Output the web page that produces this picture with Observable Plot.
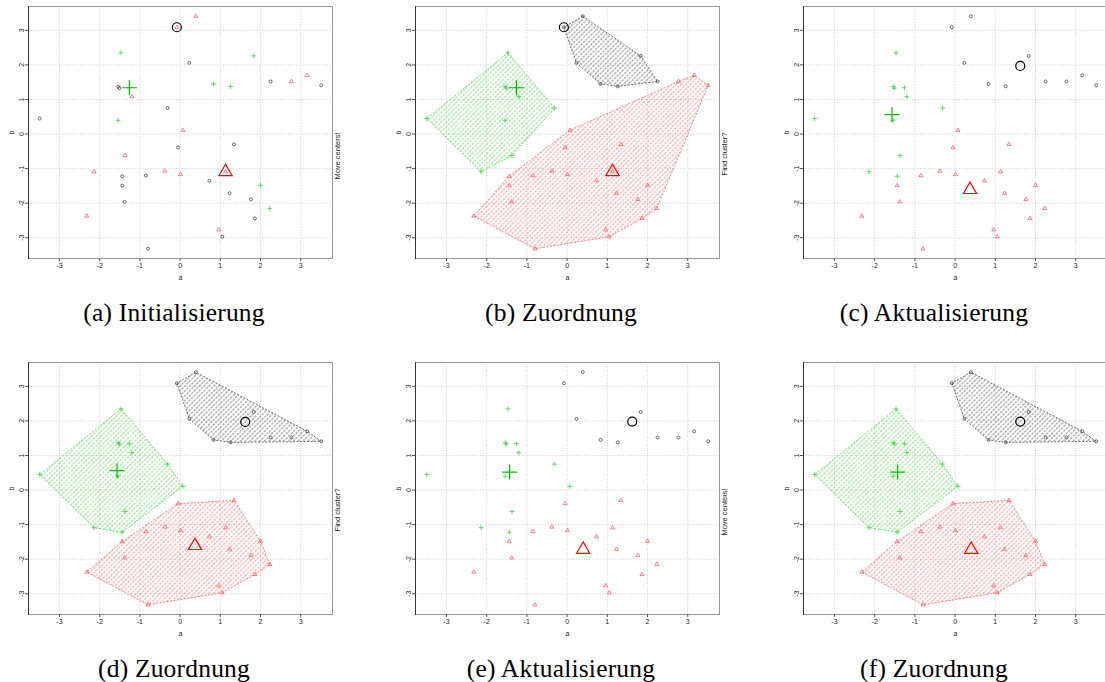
<!DOCTYPE html>
<html><head><meta charset="utf-8">
<script src="https://cdn.jsdelivr.net/npm/d3@7"></script>
<script src="https://cdn.jsdelivr.net/npm/@observablehq/plot@0.6"></script>
<style>
html,body{margin:0;padding:0;background:#fff;}
#wrap{position:relative;width:1105px;height:682px;overflow:hidden;background:#fff;}
.panel{position:absolute;width:370px;height:280px;}
.panel svg{max-width:none !important;width:370px;height:280px;}
.cap{position:absolute;font-family:"Liberation Serif","Times New Roman",serif;font-size:25.5px;line-height:26px;white-space:nowrap;transform:translateX(-50%);color:#000;letter-spacing:0.2px;}
</style></head><body><div id="wrap"></div>
<script>
// ---- data: 40 points (a, b) ----
const a = [-0.08, 0.39, 0.23, 1.83, 0.83, 1.26, 2.25, 2.77, 3.16, 3.51,
           -1.47, -1.54, -1.51, -1.26, -1.20, -0.31, -3.49, -1.54, -1.37, -2.14, -1.44,
           0.07, -0.05, 1.34, -0.85, -0.38, 0.01, 1.13, 0.73, 2.00, -1.44, 1.23, -1.38, 1.76, 2.23, -2.32, 1.86, 0.96, 1.05, -0.80];
const b = [3.09, 3.41, 2.06, 2.26, 1.45, 1.38, 1.52, 1.52, 1.70, 1.41,
           2.35, 1.37, 1.33, 1.34, 1.08, 0.75, 0.45, 0.40, -0.62, -1.09, -1.22,
           0.11, -0.39, -0.30, -1.20, -1.07, -1.17, -1.09, -1.35, -1.48, -1.49, -1.71, -1.96, -1.89, -2.15, -2.37, -2.44, -2.77, -2.97, -3.32];
// cluster labels: 1 = black circle, 2 = red triangle, 3 = green plus
const clusterInit   = [2,2,1,3,3,3,1,2,2,1, 3,1,1,3,2,1,1,3,2,2,1, 2,1,1,1,2,2,2,1,3,1,1,1,1,3,2,1,2,1,1];
const clusterFirst  = [1,1,1,1,1,1,1,2,2,2, 3,3,3,3,3,3,3,3,3,3,2, 2,2,2,2,2,2,2,2,2,2,2,2,2,2,2,2,2,2,2];
const clusterSecond = [1,1,1,1,1,1,1,1,1,1, 3,3,3,3,3,3,3,3,3,3,3, 2,2,2,2,2,2,2,2,2,2,2,2,2,2,2,2,2,2,2];
const clusterThird  = [1,1,1,1,1,1,1,1,1,1, 3,3,3,3,3,3,3,3,3,3,3, 3,2,2,2,2,2,2,2,2,2,2,2,2,2,2,2,2,2,2];
// centers (cluster order 1, 2, 3)
const centerK  = [1, 2, 3];
const center0A = [-0.08, 1.13, -1.26];
const center0B = [3.09, -1.09, 1.34];
const center1A = [1.62, 0.37, -1.57];
const center1B = [1.97, -1.61, 0.56];
const center2A = [1.62, 0.40, -1.43];
const center2B = [1.98, -1.72, 0.52];
// ticks
const xTicks = [-3, -2, -1, 0, 1, 2, 3];
const yTicks = [-3, -2, -1, 0, 1, 2, 3];
const tickLabels = ["-3", "-2", "-1", "0", "1", "2", "3"];
// texts (panels c and f: side label falls outside the visible figure)
const sideLabels = ["Move centers!", "Find cluster?", "", "Find cluster?", "Move centers!", ""];
const captions = ["(a) Initialisierung", "(b) Zuordnung", "(c) Aktualisierung", "(d) Zuordnung", "(e) Aktualisierung", "(f) Zuordnung"];

// ---- styles ----
const colPt = {1: "#333333", 2: "#ff4d4d", 3: "#2ecc2e"};
const colCtr = {1: "#000000", 2: "#ff0000", 3: "#00bb00"};
const colHatch = {1: "#4a4a4a", 2: "#ff5e5e", 3: "#44d444"};
const sym = {1: "circle", 2: "triangle2", 3: "plus"};
const rPt = {1: 1.5, 2: 1.9, 3: 1.75};
const rCtr = {1: 4.5, 2: 6.3, 3: 4.9};
const fmt = d => tickLabels[xTicks.indexOf(d)];

const panels = [
  {id: "a", pts: clusterInit,   hull: null,         ca: center0A, cb: center0B, left: 0,   top: 0,   cx: 174, cy: 300},
  {id: "b", pts: clusterFirst,  hull: clusterFirst, ca: center0A, cb: center0B, left: 387, top: 0,   cx: 561, cy: 300},
  {id: "c", pts: clusterSecond, hull: null,         ca: center1A, cb: center1B, left: 775, top: 0,   cx: 934, cy: 300},
  {id: "d", pts: clusterThird,  hull: clusterThird, ca: center1A, cb: center1B, left: 0,   top: 356, cx: 174, cy: 656},
  {id: "e", pts: clusterThird,  hull: null,         ca: center2A, cb: center2B, left: 387, top: 356, cx: 561, cy: 656},
  {id: "f", pts: clusterThird,  hull: clusterThird, ca: center2A, cb: center2B, left: 775, top: 356, cx: 934, cy: 656}
];

const wrap = document.getElementById("wrap");

panels.forEach((p, pi) => {
  const pts = a.map((v, i) => ({a: v, b: b[i], pk: p.pts[i], hk: p.hull ? p.hull[i] : 0}));
  const marks = [
    Plot.gridX(xTicks, {stroke: "#c4c4c4", strokeOpacity: 1, strokeWidth: 0.8, strokeDasharray: "1,1.6"}),
    Plot.gridY(yTicks, {stroke: "#c4c4c4", strokeOpacity: 1, strokeWidth: 0.8, strokeDasharray: "1,1.6"})
  ];
  if (p.hull) {
    for (const k of centerK) {
      marks.push(Plot.hull(pts.filter(d => d.hk === k), {x: "a", y: "b", fill: `url(#hatch${k}${p.id})`, stroke: colHatch[k], strokeWidth: 0.8, strokeDasharray: "2,1.5"}));
    }
  }
  for (const k of centerK) {
    marks.push(Plot.dot(pts.filter(d => d.pk === k), {x: "a", y: "b", symbol: sym[k], r: rPt[k], stroke: colPt[k], fill: "none", strokeWidth: 0.7}));
  }
  centerK.forEach((k, i) => {
    marks.push(Plot.dot([{a: p.ca[i], b: p.cb[i]}], {x: "a", y: "b", symbol: sym[k], r: rCtr[k], stroke: colCtr[k], fill: "none", strokeWidth: 1.2}));
  });
  marks.push(Plot.frame({stroke: "#999"}));
  marks.push(Plot.frame({anchor: "left", stroke: "#333"}));
  marks.push(Plot.axisX(xTicks, {tickSize: 3, tickPadding: 1.5, fontSize: 7, stroke: "#555", fill: "#222", tickFormat: fmt, label: "a", labelAnchor: "center", labelOffset: 21, labelArrow: "none"}));
  marks.push(Plot.axisY(yTicks, {tickSize: 3, tickPadding: 1.5, tickRotate: -90, fontSize: 7, stroke: "#555", fill: "#222", tickFormat: fmt, label: "b", labelAnchor: "center", labelOffset: 19, labelArrow: "none"}));
  if (sideLabels[pi]) {
    marks.push(Plot.text([sideLabels[pi]], {text: d => d, frameAnchor: "right", rotate: -90, dx: 5, fontSize: 7.5, fill: "#222"}));
  }

  const svg = Plot.plot({
    width: 370, height: 280,
    marginLeft: 28, marginRight: 38, marginTop: 6, marginBottom: 22,
    x: {domain: [-3.77, 3.79]},
    y: {domain: [-3.6, 3.69]},
    style: {fontFamily: "'Liberation Sans', Arial, sans-serif", background: "transparent", overflow: "visible", maxWidth: "none"},
    marks
  });
  const defs = d3.select(svg).insert("defs", ":first-child");
  for (const k of centerK) {
    const pat = defs.append("pattern")
      .attr("id", `hatch${k}${p.id}`)
      .attr("patternUnits", "userSpaceOnUse")
      .attr("width", 7).attr("height", 3.4)
      .attr("patternTransform", "rotate(-45)");
    pat.append("line")
      .attr("x1", 0).attr("y1", 1.7).attr("x2", 7).attr("y2", 1.7)
      .attr("stroke", colHatch[k]).attr("stroke-width", 0.75)
      .attr("stroke-dasharray", "2.4,1.1");
  }
  const holder = document.createElement("div");
  holder.className = "panel";
  holder.style.left = p.left + "px";
  holder.style.top = p.top + "px";
  holder.appendChild(svg);
  wrap.appendChild(holder);

  const cap = document.createElement("div");
  cap.className = "cap";
  cap.textContent = captions[pi];
  cap.style.left = p.cx + "px";
  cap.style.top = p.cy + "px";
  wrap.appendChild(cap);
});
</script></body></html>
